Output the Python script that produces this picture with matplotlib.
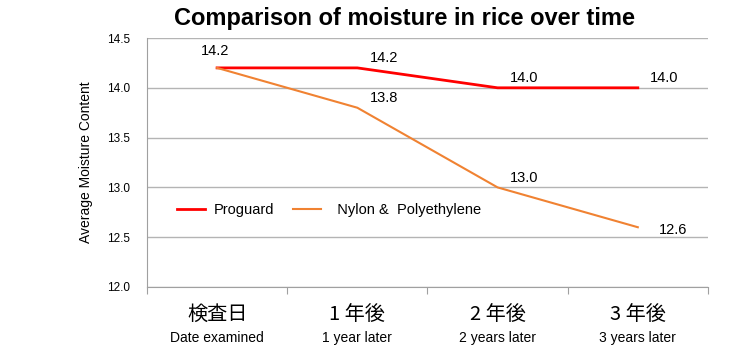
import matplotlib.pyplot as plt
from matplotlib.transforms import blended_transform_factory

# データ
cats_jp = ['検査日', '1 年後', '2 年後', '3 年後']
cats_en = ['Date examined', '1 year later', '2 years later', '3 years later']
proguard = [14.2, 14.2, 14.0, 14.0]
nylon = [14.2, 13.8, 13.0, 12.6]

narrow = ['Liberation Sans Narrow', 'Liberation Sans', 'DejaVu Sans']
plt.rcParams['font.family'] = ['Liberation Sans', 'DejaVu Sans']

fig = plt.figure(figsize=(7.29, 3.52), dpi=100)
ax = fig.add_axes([0.2016, 0.1847, 0.7695, 0.7073])

x = [i + 0.5 for i in range(len(cats_jp))]
ax.plot(x, proguard, color='#FF0000', lw=2, label='Proguard', zorder=3)
ax.plot(x, nylon, color='#F08232', lw=1.5, label='  Nylon &  Polyethylene', zorder=3)

# 数値ラベル
ax.annotate(f'{proguard[0]:.1f}', (x[0], proguard[0]), xytext=(-12, 9),
            textcoords='offset points', fontsize=10.5, family=narrow)
for xi, v in zip(x[1:], proguard[1:]):
    ax.annotate(f'{v:.1f}', (xi, v), xytext=(9, 4), textcoords='offset points',
                fontsize=10.5, family=narrow)
for xi, v in zip(x[1:], nylon[1:]):
    ax.annotate(f'{v:.1f}', (xi, v), xytext=(9, 4) if v > 12.7 else (15, -5),
                textcoords='offset points', fontsize=10.5, family=narrow)

ax.set_xlim(0, 4)
ax.set_ylim(12.0, 14.5)
ax.set_yticks([12.0, 12.5, 13.0, 13.5, 14.0, 14.5])
ax.set_yticklabels([f'{t:.1f}' for t in ax.get_yticks()], family=narrow, fontsize=8.5)
ax.set_xticks([0, 1, 2, 3, 4])
ax.set_xticklabels([])
ax.tick_params(axis='x', length=5, color='#A0A0A0')
ax.tick_params(axis='y', length=0, pad=12)
ax.grid(axis='y', color='#B4B4B4', lw=1)
ax.set_axisbelow(True)
for s in ['top', 'right']:
    ax.spines[s].set_visible(False)
ax.spines['left'].set_color('#A0A0A0')
ax.spines['bottom'].set_color('#A0A0A0')

tr = blended_transform_factory(ax.transData, fig.transFigure)
for xi, jp, en in zip(x, cats_jp, cats_en):
    ax.text(xi, 1 - 314 / 352, jp, transform=tr, ha='center', va='center',
            fontsize=14.5, family=['Noto Sans CJK JP', 'DejaVu Sans'])
    ax.text(xi, 1 - 338 / 352, en, transform=tr, ha='center', va='center',
            fontsize=10, family=narrow)

ax.set_ylabel('Average Moisture Content', fontsize=10, labelpad=10)

fig.text(405 / 729, 1 - 19 / 352, 'Comparison of moisture in rice over time',
         ha='center', va='center', fontsize=17, fontweight='bold', family=narrow)

ax.legend(loc='upper left', bbox_to_anchor=(0.03, 0.39), ncol=2, frameon=False,
          handlelength=1.9, columnspacing=1.3, handletextpad=0.6,
          prop={'family': narrow, 'size': 10.5})

fig.savefig('out.png', dpi=100)
